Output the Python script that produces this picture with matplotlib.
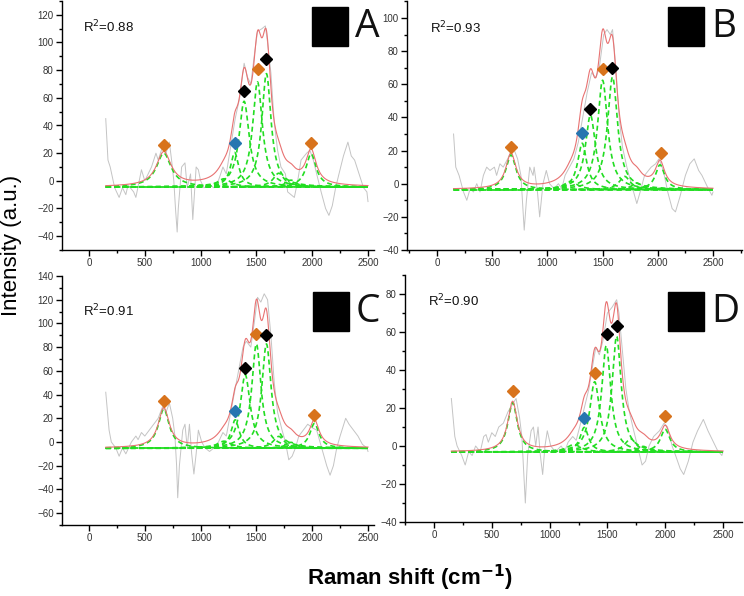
import numpy as np
import matplotlib
matplotlib.use("Agg")
import matplotlib.pyplot as plt
from matplotlib.patches import Rectangle
from matplotlib.ticker import MultipleLocator

plt.rcParams['font.family'] = ['Liberation Sans', 'DejaVu Sans']

# ---------------- data ----------------
panel_labels = ["A", "B", "C", "D"]
r2_values = ["0.88", "0.93", "0.91", "0.90"]
ylims = [(-50, 130), (-40, 110), (-70, 140), (-40, 90)]
baselines = [-4.5, -3.6, -5.3, -3.2]

# raw (gray) spectra: shift, intensity
raw_x_A = [150, 170, 190, 230, 270, 300, 330, 350, 400, 420, 450, 470, 500, 530, 560, 600, 620, 660, 690, 720, 740, 760, 775, 790, 800, 830, 860, 880, 910, 930, 960, 980, 1000, 1030, 1080, 1120, 1150, 1180, 1200, 1230, 1260, 1290, 1310, 1350, 1390, 1420, 1450, 1480, 1510, 1550, 1580, 1600, 1630, 1660, 1690, 1720, 1760, 1780, 1810, 1840, 1870, 1900, 1950, 1980, 2010, 2040, 2080, 2120, 2150, 2180, 2210, 2240, 2280, 2320, 2350, 2380, 2420, 2460, 2490, 2500]
raw_y_A = [45, 15, 10, -5, -12, -5, -10, -3, -8, -12, 0, 8, 0, 5, 10, 20, 15, 25, 20, 28, 15, 0, -20, -37, -20, 10, 13, -5, 5, -28, 10, 8, 0, -5, -3, -5, -2, 5, 10, 5, 20, 35, 45, 60, 85, 75, 70, 90, 108, 110, 112, 100, 78, 42, 22, 10, 5, -8, -10, -12, 0, 15, 20, 22, 15, 5, -8, -20, -25, -18, -5, 5, 18, 28, 18, 15, 5, -5, -8, -15]

raw_x_B = [150, 170, 200, 240, 270, 300, 330, 360, 390, 420, 450, 480, 520, 540, 570, 600, 640, 690, 730, 760, 790, 810, 840, 870, 880, 910, 930, 960, 990, 1020, 1060, 1100, 1130, 1160, 1200, 1240, 1280, 1320, 1360, 1400, 1440, 1470, 1510, 1540, 1570, 1590, 1620, 1650, 1680, 1720, 1760, 1810, 1840, 1880, 1940, 1980, 2010, 2050, 2090, 2130, 2160, 2200, 2250, 2290, 2330, 2370, 2400, 2450, 2490, 2500]
raw_y_B = [30, 10, 5, -5, -10, -3, -5, 0, -5, 5, 10, 8, 10, 5, 12, 10, 15, 22, 15, 5, -28, -10, 10, 5, 10, -5, -20, 0, 8, 0, -3, 0, -3, 5, 10, 15, 25, 40, 55, 67, 64, 70, 90, 93, 90, 93, 70, 40, 22, 10, 0, -12, -5, 5, 10, 12, 15, 8, -5, -15, -17, -8, 5, 12, 15, 8, 5, -2, -7, -5]

raw_x_C = [150, 180, 200, 240, 270, 300, 330, 380, 420, 440, 470, 500, 540, 580, 620, 660, 690, 720, 750, 770, 785, 795, 810, 840, 860, 880, 900, 920, 940, 960, 980, 1010, 1040, 1080, 1120, 1160, 1200, 1230, 1260, 1290, 1320, 1350, 1380, 1410, 1450, 1480, 1510, 1540, 1570, 1600, 1630, 1660, 1690, 1730, 1760, 1790, 1820, 1850, 1880, 1920, 1960, 2000, 2040, 2070, 2100, 2130, 2160, 2190, 2220, 2250, 2300, 2330, 2370, 2410, 2450, 2490, 2500]
raw_y_C = [42, 10, 0, -5, -12, -5, -10, 0, 5, 2, 8, 5, 10, 15, 20, 30, 25, 33, 20, 5, -20, -47, -20, 10, 15, -5, 15, -10, -27, -10, 10, 0, -5, -8, -5, 0, 8, 5, 20, 35, 50, 65, 80, 85, 80, 100, 122, 118, 125, 120, 90, 50, 25, 10, 0, -15, -12, -5, 5, 10, 15, 12, 10, 0, -10, -20, -28, -20, -5, 5, 20, 15, 10, 5, -2, -5, -8]

raw_x_D = [150, 180, 200, 240, 270, 300, 330, 360, 400, 430, 450, 470, 500, 530, 560, 600, 640, 680, 710, 740, 760, 790, 810, 840, 860, 880, 900, 920, 940, 960, 980, 1010, 1050, 1100, 1130, 1160, 1200, 1230, 1260, 1300, 1340, 1380, 1400, 1430, 1460, 1500, 1540, 1580, 1600, 1630, 1660, 1690, 1720, 1760, 1800, 1830, 1860, 1900, 1950, 1990, 2020, 2060, 2090, 2130, 2160, 2200, 2240, 2280, 2330, 2370, 2410, 2450, 2490, 2500]
raw_y_D = [25, 5, 0, -5, -10, -3, -5, 0, -3, 5, 6, 2, 7, 5, 10, 12, 18, 22, 25, 15, 5, -30, -5, 8, 10, 0, 10, -5, -15, 0, 8, 0, -3, 0, -3, 2, 5, 3, 10, 20, 30, 45, 52, 48, 55, 70, 73, 77, 70, 50, 30, 18, 10, 0, -10, -8, 0, 5, 8, 12, 10, 0, -5, -12, -15, -8, 2, 8, 14, 8, 3, -2, -5, -3]

# fitted Lorentzian components: centre, height above baseline, FWHM
comp_c_A = [670, 1210, 1305, 1390, 1510, 1590, 1700, 1810, 1990]
comp_h_A = [24.5, 6, 25, 62, 76, 82, 10, 5, 24]
comp_w_A = [160, 150, 90, 110, 105, 100, 120, 110, 110]

comp_c_B = [670, 1210, 1315, 1390, 1500, 1590, 1700, 1810, 2020]
comp_h_B = [21, 5, 28, 45, 66, 68, 8, 4, 15]
comp_w_B = [110, 150, 100, 110, 110, 110, 120, 110, 100]

comp_c_C = [670, 1210, 1310, 1400, 1500, 1590, 1700, 1810, 2020]
comp_h_C = [33, 6, 24, 62, 88, 88, 10, 5, 21]
comp_w_C = [120, 150, 90, 108, 100, 100, 120, 110, 100]

comp_c_D = [680, 1210, 1300, 1390, 1490, 1580, 1700, 1810, 2000]
comp_h_D = [26, 4, 13, 37, 56, 61, 7, 3, 12]
comp_w_D = [100, 150, 90, 105, 95, 95, 120, 110, 100]

# peak markers: position, height, colour class
mark_x_A = [670, 1305, 1390, 1510, 1585, 1990]
mark_y_A = [26, 27, 65, 81, 88, 27]
mark_k_A = ["o", "b", "k", "o", "k", "o"]

mark_x_B = [670, 1315, 1390, 1505, 1585, 2025]
mark_y_B = [22, 30.5, 45, 69, 70, 18.5]
mark_k_B = ["o", "b", "k", "o", "k", "o"]

mark_x_C = [670, 1310, 1400, 1500, 1590, 2020]
mark_y_C = [35, 26.5, 62, 91, 90, 23]
mark_k_C = ["o", "b", "k", "o", "k", "o"]

mark_x_D = [680, 1300, 1390, 1495, 1580, 2000]
mark_y_D = [29, 15, 38.5, 59, 63, 16]
mark_k_D = ["o", "b", "o", "k", "k", "o"]

raws = [(raw_x_A, raw_y_A), (raw_x_B, raw_y_B), (raw_x_C, raw_y_C), (raw_x_D, raw_y_D)]
comps = [(comp_c_A, comp_h_A, comp_w_A), (comp_c_B, comp_h_B, comp_w_B),
         (comp_c_C, comp_h_C, comp_w_C), (comp_c_D, comp_h_D, comp_w_D)]
marks = [(mark_x_A, mark_y_A, mark_k_A), (mark_x_B, mark_y_B, mark_k_B),
         (mark_x_C, mark_y_C, mark_k_C), (mark_x_D, mark_y_D, mark_k_D)]
mark_colors = {"o": "#d8731c", "b": "#2676b0", "k": "#000000"}

# ---------------- layout (pixels) ----------------
W, H = 744, 596
# left, right, x(0), x(2500), top, bottom
boxes = [(62, 374, 89, 368, 1, 250),
         (407, 742, 437, 713, 1.4, 250),
         (62, 374, 89, 368, 276, 525),
         (405, 742, 434, 723, 275, 522)]
sq_boxes = [(312, 7), (668, 7), (313, 292), (668, 292)]

fig = plt.figure(figsize=(W / 100, H / 100), dpi=100)

xs = np.linspace(150, 2500, 1200)

def lor(x, c, h, w):
    g = w / 2.0
    return h / (1 + ((x - c) / g) ** 2)

for i in range(4):
    l, r, x0, x25, t, b = boxes[i]
    ax = fig.add_axes([l / W, 1 - b / H, (r - l) / W, (b - t) / H])
    s = (x25 - x0) / 2500.0
    ax.set_xlim((l - x0) / s, (r - x0) / s)
    ax.set_ylim(*ylims[i])

    rx, ry = raws[i]
    ax.plot(rx, ry, color="#c4c4c4", lw=0.7, zorder=1)

    base = baselines[i]
    cc, hh, ww = comps[i]
    total = np.full_like(xs, base)
    ax.plot([150, 2500], [base, base], color="#22dd22", lw=1.3, ls=(0, (3, 2)), zorder=2)
    for c, h, w in zip(cc, hh, ww):
        yk = base + lor(xs, c, h, w)
        total += lor(xs, c, h, w)
        ax.plot(xs, yk, color="#22dd22", lw=1.2, ls=(0, (3, 2)), zorder=2)
    ax.plot(xs, total, color="#e87272", lw=0.8, zorder=3)

    mx, my, mk = marks[i]
    for x_, y_, k_ in zip(mx, my, mk):
        ax.plot(x_, y_, marker="D", ms=5.8, color=mark_colors[k_], mec=mark_colors[k_], zorder=4)

    for sp in ["top", "right"]:
        ax.spines[sp].set_visible(False)
    for sp in ["left", "bottom"]:
        ax.spines[sp].set_linewidth(1.0)
    ax.xaxis.set_major_locator(MultipleLocator(500))
    ax.xaxis.set_minor_locator(MultipleLocator(250))
    ax.yaxis.set_major_locator(MultipleLocator(20))
    ax.yaxis.set_minor_locator(MultipleLocator(10))
    ax.tick_params(which="major", direction="out", length=4, width=1, labelsize=7,
                   labelcolor="#333333", pad=2)
    ax.tick_params(which="minor", direction="out", length=2.5, width=1)
    ax.patch.set_alpha(0)

    ax.text(0.068, 0.895 if i != 2 else 0.86, "R$^2$=" + r2_values[i], transform=ax.transAxes,
            fontsize=9.5, ha="left", va="center", color="#111111")

    sx, sy = sq_boxes[i]
    fig.patches.append(Rectangle((sx / W, 1 - (sy + 39) / H), 36 / W, 39 / H,
                                 transform=fig.transFigure, color="black"))
    fig.text((sx + 43) / W, 1 - (sy + 20) / H, panel_labels[i], fontsize=28,
             family=["Open Sans", "DejaVu Sans"], ha="left", va="center", color="#111111")

fig.text(12 / W, 1 - 245 / H, "Intensity (a.u.)", rotation=90, fontsize=16,
         ha="center", va="center")
fig.text(410 / W, 1 - 578 / H, "Raman shift (cm$^{\\mathbf{-1}}$)", fontsize=16,
         fontweight="bold", ha="center", va="center")

fig.savefig("out.png", dpi=100)
